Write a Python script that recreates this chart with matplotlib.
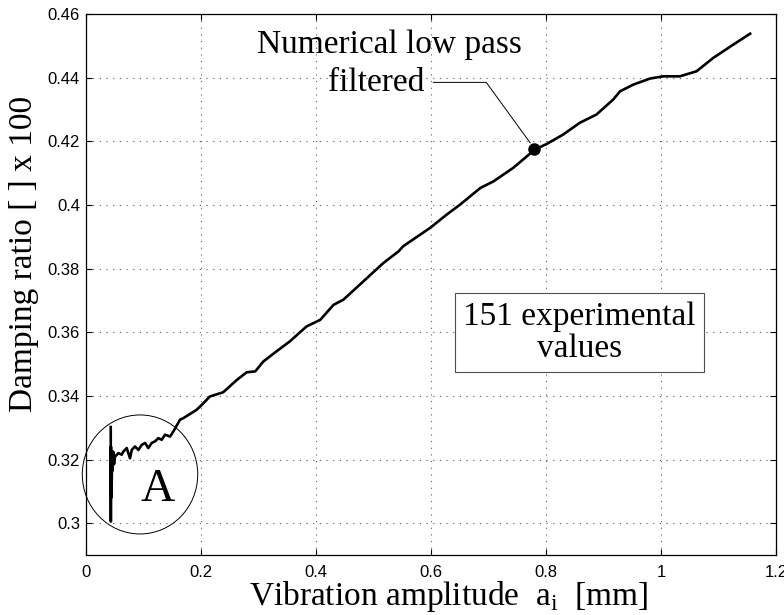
import matplotlib
matplotlib.use("Agg")
import matplotlib.pyplot as plt
from matplotlib.patches import Ellipse

# filtered damping curve
amplitude = [0.0438, 0.0440, 0.0442, 0.0446, 0.0450, 0.0455, 0.0462, 0.0470,
             0.0480, 0.0495, 0.0513, 0.0570, 0.0629, 0.0657, 0.0716, 0.0744,
             0.0773, 0.0803, 0.0860, 0.0918, 0.0977, 0.1034, 0.1091, 0.1150,
             0.1208, 0.1265, 0.1324, 0.1382, 0.1469, 0.1526, 0.1642, 0.170,
             0.193, 0.205, 0.216, 0.239, 0.263, 0.280, 0.295, 0.309, 0.332,
             0.355, 0.384, 0.408, 0.431, 0.448, 0.483, 0.518, 0.544, 0.552,
             0.599, 0.628, 0.651, 0.686, 0.709, 0.743, 0.781, 0.802, 0.830,
             0.859, 0.888, 0.917, 0.929, 0.952, 0.981, 1.004, 1.033, 1.062,
             1.091, 1.126, 1.155]
damping = [0.3302, 0.3005, 0.3240, 0.3080, 0.3225, 0.3130, 0.3215, 0.3165,
           0.3225, 0.3185, 0.3209, 0.3220, 0.3215, 0.3225, 0.3236, 0.3220,
           0.3204, 0.3230, 0.3241, 0.3230, 0.3246, 0.3252, 0.3236, 0.3252,
           0.3257, 0.3267, 0.3262, 0.3278, 0.3272, 0.3288, 0.3325, 0.3330,
           0.3356, 0.3377, 0.3398, 0.3411, 0.3450, 0.3474, 0.3477, 0.3508,
           0.3540, 0.3571, 0.3618, 0.3639, 0.3686, 0.3702, 0.3760, 0.3818,
           0.3854, 0.3870, 0.3928, 0.3970, 0.4001, 0.4053, 0.4074, 0.4116,
           0.4174, 0.4192, 0.4221, 0.4258, 0.4284, 0.4331, 0.4357, 0.4378,
           0.4397, 0.4404, 0.4404, 0.4420, 0.4462, 0.4504, 0.4538]

marked_point = (0.780, 0.4177)

x_ticks = [0, 0.2, 0.4, 0.6, 0.8, 1.0, 1.2]
y_ticks = [0.30, 0.32, 0.34, 0.36, 0.38, 0.40, 0.42, 0.44, 0.46]

serif = "Liberation Serif"
sans = "Liberation Sans"
plt.rcParams["mathtext.fontset"] = "custom"
plt.rcParams["mathtext.rm"] = serif


def main():
    fig = plt.figure(figsize=(7.84, 6.15), dpi=100)
    ax = fig.add_axes([0.1091, 0.0976, 0.8807, 0.8797])

    ax.plot(amplitude, damping, color="black", lw=1.9, solid_joinstyle="round")
    ax.plot(*marked_point, "o", color="black", ms=8)

    ax.set_xlim(0, 1.2)
    ax.set_ylim(0.29, 0.46)
    ax.set_xticks(x_ticks)
    ax.set_yticks(y_ticks)
    ax.set_xticklabels([f"{v:g}" for v in x_ticks], fontfamily=sans, fontsize=12)
    ax.set_yticklabels([f"{v:g}" for v in y_ticks], fontfamily=sans, fontsize=12)
    ax.tick_params(direction="in", length=4, width=0.8, top=True, right=True)
    ax.tick_params(axis="y", pad=4)
    ax.tick_params(axis="x", pad=7)
    ax.grid(True, color="0.35", linestyle=(0, (1, 5)), lw=0.8)
    for s in ax.spines.values():
        s.set_linewidth(0.9)

    ax.set_xlabel(r"Vibration amplitude  a$_{\mathregular{i}}$  [mm]", fontfamily=serif, fontsize=24)
    ax.set_ylabel("Damping ratio [ ] x 100", fontfamily=serif, fontsize=24)
    ax.xaxis.set_label_coords(0.526, -0.044)
    ax.yaxis.set_label_coords(-0.068, 0.556)

    # zoom region "A"
    circ = Ellipse((0.0947, 0.3153), 0.2006, 0.0374, fill=False, ec="black", lw=0.7, clip_on=False)
    ax.add_patch(circ)
    ax.text(0.125, 0.3105, "A", fontfamily=serif, fontsize=34, ha="center", va="center")

    ax.text(0.529, 0.4504, "Numerical low pass", fontfamily=serif, fontsize=24,
            ha="center", va="center")
    ax.annotate("filtered", xy=marked_point, xytext=(0.506, 0.4385),
                fontfamily=serif, fontsize=24, ha="center", va="center",
                arrowprops=dict(arrowstyle="-", lw=0.7, color="black",
                                connectionstyle="angle,angleA=0,angleB=126,rad=0",
                                shrinkA=4, shrinkB=5))

    ax.text(0.858, 0.3598, "151 experimental\nvalues", fontfamily=serif, fontsize=24,
            ha="center", va="center", linespacing=1.05,
            bbox=dict(boxstyle="square,pad=0.25", fc="white", ec="0.3", lw=0.8))

    fig.savefig("out.png", dpi=100)


if __name__ == "__main__":
    main()
